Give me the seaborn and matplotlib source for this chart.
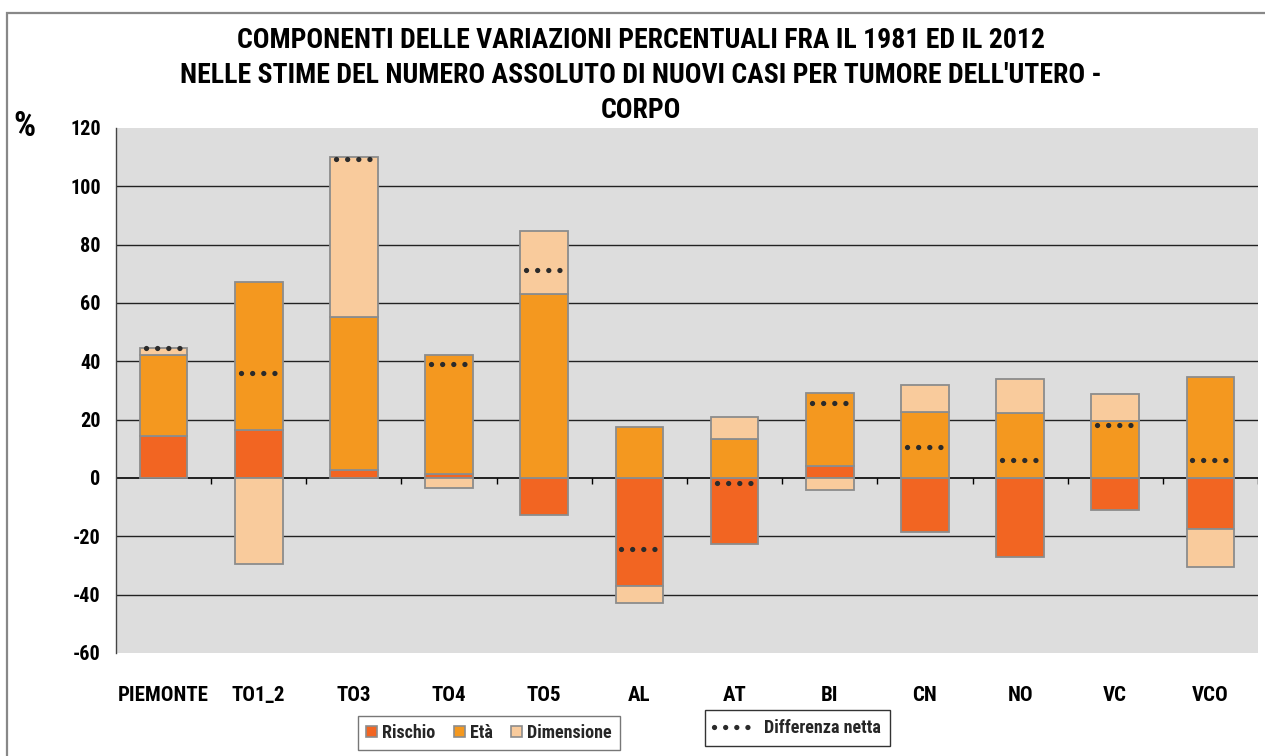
import numpy as np
import pandas as pd
import matplotlib
matplotlib.use("Agg")
import matplotlib.pyplot as plt
import seaborn as sns
from matplotlib.lines import Line2D
from matplotlib.patches import Patch, Rectangle

categories = ["PIEMONTE", "TO1_2", "TO3", "TO4", "TO5", "AL", "AT", "BI", "CN", "NO", "VC", "VCO"]
rischio = [14.4, 16.6, 2.7, 1.3, -12.7, -36.9, -22.6, 4.1, -18.6, -27.0, -10.9, -17.4]
eta = [27.8, 50.7, 52.5, 40.9, 63.1, 17.6, 13.4, 25.2, 22.6, 22.2, 19.5, 34.7]
dimensione = [2.5, -29.5, 55.0, -3.3, 21.6, -6.0, 7.6, -4.1, 9.4, 11.6, 9.2, -13.0]
netta = [44.4, 35.9, 109.5, 39.2, 71.3, -24.4, -1.8, 25.6, 10.7, 6.2, 18.2, 6.2]
yticks = [-60, -40, -20, 0, 20, 40, 60, 80, 100, 120]
series_names = ["Rischio", "Età", "Dimensione"]
series_colors = ["#F26522", "#F4981F", "#F9CB9C"]
title_lines = [
    "COMPONENTI DELLE VARIAZIONI PERCENTUALI FRA IL 1981 ED IL 2012",
    "NELLE STIME DEL NUMERO ASSOLUTO DI NUOVI CASI PER TUMORE DELL'UTERO -",
    "CORPO",
]

sns.set_theme(style="white")
FONT = ["Roboto Condensed", "DejaVu Sans"]
plt.rcParams["font.family"] = FONT
plt.rcParams["font.weight"] = "bold"

W, H = 1265, 756
fig = plt.figure(figsize=(W / 100, H / 100), dpi=100)
fig.patch.set_facecolor("white")
ax = fig.add_axes([116 / W, 1 - 653 / H, (1258 - 116) / W, (653 - 128) / H])
ax.set_facecolor("#DDDDDD")

edge = "#8C8C8C"
pos_base = np.zeros(len(categories))
neg_base = np.zeros(len(categories))
for name, vals, col in zip(series_names, [rischio, eta, dimensione], series_colors):
    v = np.array(vals, dtype=float)
    bottom = np.where(v >= 0, pos_base, neg_base)
    df = pd.DataFrame({"cat": categories, "val": v})
    sns.barplot(data=df, x="cat", y="val", order=categories, color=col, saturation=1,
                width=0.5, bottom=bottom, edgecolor=edge, linewidth=1.3,
                errorbar=None, ax=ax, zorder=3)
    pos_base = pos_base + np.where(v >= 0, v, 0)
    neg_base = neg_base + np.where(v < 0, v, 0)

xs = np.arange(len(categories))
DOT = (0, (0.01, 2.1))
lc = ax.hlines(netta, xs - 0.19, xs + 0.19, colors="#2B2B2B",
               linestyles=[DOT], linewidth=3.8, zorder=6)
lc.set_capstyle("round")

ax.set_xlim(-0.5, len(categories) - 0.5)
ax.set_ylim(-60, 120)
ax.set_yticks(yticks)
ax.set_yticklabels([str(t) for t in yticks])
for t in yticks:
    if t not in (0, -60, 120):
        ax.axhline(t, color="#222222", linewidth=1.0, zorder=1)
ax.axhline(0, color="#000000", linewidth=1.2, zorder=2)
ax.vlines(np.arange(len(categories)) + 0.5, -2.1, 0, colors="#000000", linewidth=1.0, zorder=2)

for s in ["top", "right", "bottom"]:
    ax.spines[s].set_visible(False)
ax.spines["left"].set_color("#444444")
ax.spines["left"].set_linewidth(1.0)
ax.tick_params(axis="y", direction="out", length=6, width=1, color="#444444",
               labelsize=14.5, pad=5)
ax.tick_params(axis="x", length=0, labelsize=15, pad=24)
ax.set_xticks(xs)
ax.set_xticklabels(categories)
for lab in ax.get_xticklabels() + ax.get_yticklabels():
    lab.set_fontweight("bold")
    lab.set_color("black")
ax.set_xlabel("")
ax.set_ylabel("")

for i, line in enumerate(title_lines):
    fig.text(641 / W, 1 - (41 + 34.5 * i) / H, line, ha="center", va="center",
             fontsize=20, fontweight="bold", color="black")
fig.text(24 / W, 1 - 127 / H, "%", ha="center", va="center", fontsize=25,
         fontweight="bold", color="black")

handles = [Patch(facecolor=c, edgecolor=edge, linewidth=1.2) for c in series_colors]
leg1 = fig.legend(handles, series_names, loc="center", bbox_to_anchor=(489 / W, 1 - 733 / H),
                  ncol=3, frameon=True, fancybox=False, handlelength=0.6, handleheight=0.6,
                  handletextpad=0.3, columnspacing=1.0, prop={"size": 13, "weight": "bold"},
                  borderpad=0.45, borderaxespad=0)
leg1.get_frame().set_edgecolor("#555555")
leg1.get_frame().set_linewidth(1.0)
dot_handle = Line2D([0], [0], color="#2B2B2B", linestyle=DOT, linewidth=3.8,
                    dash_capstyle="round")
leg2 = fig.legend([dot_handle], ["Differenza netta"], loc="center",
                  bbox_to_anchor=(797.5 / W, 1 - 728 / H), frameon=True, fancybox=False,
                  handlelength=2.2, handletextpad=0.6, prop={"size": 13, "weight": "bold"},
                  borderpad=0.5, borderaxespad=0)
leg2.get_frame().set_edgecolor("#000000")
leg2.get_frame().set_linewidth(1.0)

fig.patches.append(Rectangle((7 / W, -0.2), 1.2, 1 - 13 / H + 0.2, transform=fig.transFigure,
                             fill=False, edgecolor="#888888", linewidth=1.6, zorder=0))

fig.savefig("out.png", dpi=100)
